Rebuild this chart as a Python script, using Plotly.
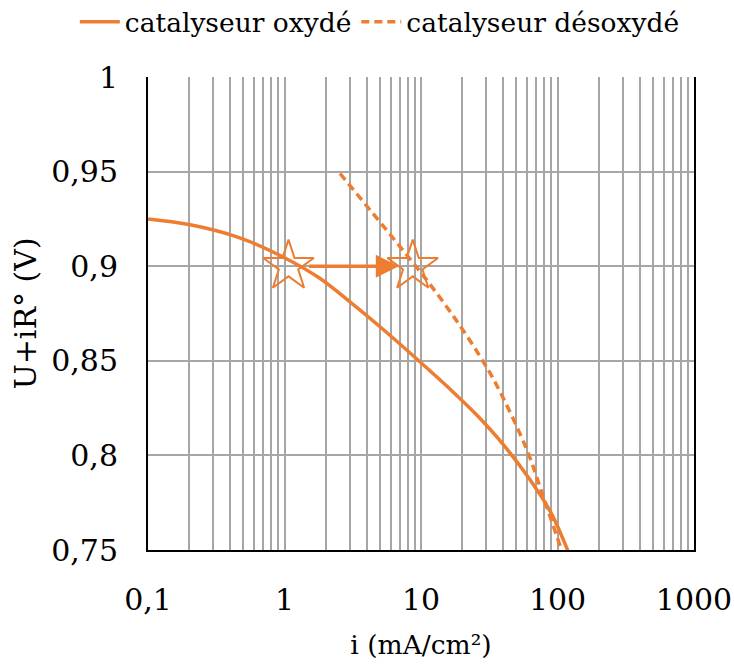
import numpy as np
import plotly.graph_objects as go

# ---- data ----
oxyde_i = [0.1, 0.2, 0.47, 1.0, 1.78, 3.16, 5.01, 10, 15.8, 25.1, 39.8, 63.1, 89.1, 120]
oxyde_u = [0.925, 0.922, 0.915, 0.9045, 0.894, 0.880, 0.868, 0.849, 0.836, 0.822, 0.806, 0.787, 0.770, 0.749]

desox_i = [2.55, 4.43, 6.55, 8.7, 11.2, 17.5, 26.7, 35.9, 59.6, 80.5, 107]
desox_u = [0.949, 0.928, 0.913, 0.902, 0.892, 0.873, 0.853, 0.837, 0.803, 0.776, 0.750]

star_i = [1.07, 8.7]
star_u = [0.9, 0.9]

x_decades = [0.1, 1, 10, 100, 1000]
x_decade_labels = ["0,1", "1", "10", "100", "1000"]

ORANGE = "#ED7D31"
FONT = "DejaVu Serif"
FS = 26.5
TFS = 30

# tick values: all 1..9 multiples for log grid
tickvals, ticktext = [], []
for d, lab in zip(x_decades, x_decade_labels):
    if d == x_decades[-1]:
        tickvals.append(d); ticktext.append(lab)
        break
    for k in range(1, 10):
        tickvals.append(k * d)
        ticktext.append(lab if k == 1 else "")

fig = go.Figure()
fig.add_trace(go.Scatter(x=oxyde_i, y=oxyde_u, mode="lines", name="catalyseur oxydé",
                         line=dict(color=ORANGE, width=3.5, shape="spline", smoothing=1.0)))
fig.add_trace(go.Scatter(x=desox_i, y=desox_u, mode="lines", name="catalyseur désoxydé",
                         line=dict(color=ORANGE, width=3.5, dash="8px,5px", shape="spline", smoothing=1.0)))
fig.add_trace(go.Scatter(x=star_i, y=star_u, mode="markers", showlegend=False,
                         marker=dict(symbol="star-open", size=38, color=ORANGE,
                                     line=dict(color=ORANGE, width=2))))

fig.add_annotation(x=np.log10(star_i[1]), y=star_u[1], ax=np.log10(star_i[0]), ay=star_u[0],
                   xref="x", yref="y", axref="x", ayref="y", text="", showarrow=True,
                   arrowhead=2, arrowsize=1.35, arrowwidth=3.4, arrowcolor=ORANGE,
                   standoff=14, startstandoff=19)

fig.update_layout(
    width=734, height=671,
    margin=dict(l=148, r=40, t=77, b=121, autoexpand=False),
    paper_bgcolor="white", plot_bgcolor="white",
    separators=", ",
    font=dict(family=FONT, size=FS, color="black"),
    legend=dict(orientation="h", x=-0.134, xanchor="left",
                y=1.116, yanchor="middle",
                font=dict(family=FONT, size=FS), bgcolor="rgba(0,0,0,0)",
                itemwidth=40, tracegroupgap=0),
    xaxis=dict(type="log", range=[-1, 3], tickvals=tickvals, ticktext=ticktext,
               showgrid=True, gridcolor="#A6A6A6", gridwidth=1.5,
               showline=True, linecolor="black", linewidth=2, ticks="",
               tickfont=dict(family=FONT, size=TFS),
               ticklabelstandoff=22, zeroline=False, automargin=False,
               title=dict(text="i (mA/cm²)", standoff=19, font=dict(family=FONT, size=FS))),
    yaxis=dict(range=[0.75, 1], dtick=0.05, tick0=0.75,
               showgrid=True, gridcolor="#A6A6A6", gridwidth=1.5,
               showline=True, linecolor="black", linewidth=2, mirror=True, ticks="",
               tickfont=dict(family=FONT, size=TFS),
               ticklabelstandoff=22, zeroline=False, automargin=False,
               title=dict(text="U+iR° (V)", standoff=6, font=dict(family=FONT, size=30))),
)

fig.write_html("out.html", config={"displayModeBar": False},
               post_script="document.body.style.margin='0';")
